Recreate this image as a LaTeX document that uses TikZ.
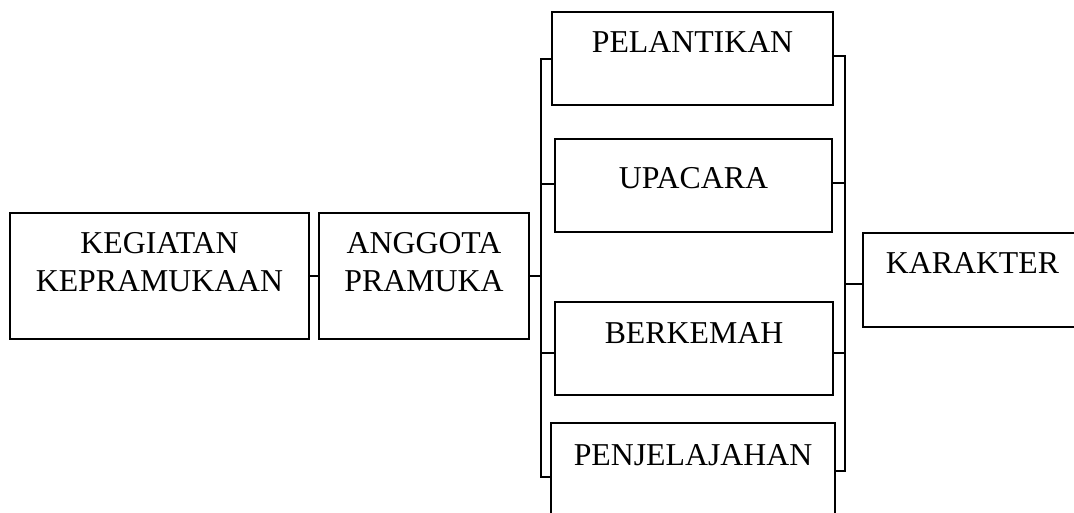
\documentclass[tikz,border=0pt]{standalone}
\usepackage{fontspec}
\setmainfont{Liberation Serif}
\begin{document}
\begin{tikzpicture}[x=1pt,y=-1pt,
  box/.style={draw=black, line width=1.5pt, inner sep=0pt, outer sep=0pt, anchor=north west},
  lbl/.style={anchor=base, inner sep=0pt, font=\fontsize{31.8}{38}\selectfont},
  conn/.style={draw=black, line width=1.5pt}]
\useasboundingbox (0,0) rectangle (1074,512);
\clip (0,0) rectangle (1074,512);
% boxes
\node[box, minimum width=299pt, minimum height=126pt] (keg) at (10,213) {};
\node[box, minimum width=210pt, minimum height=126pt] (ang) at (319,213) {};
\node[box, minimum width=281pt, minimum height=93pt] (pel) at (552,12) {};
\node[box, minimum width=277pt, minimum height=93pt] (upa) at (555,139) {};
\node[box, minimum width=278pt, minimum height=93pt] (ber) at (555,302) {};
\node[box, minimum width=284pt, minimum height=110pt] (pen) at (551,423) {};
\node[box, minimum width=221pt, minimum height=94pt] (kar) at (863,233) {};
% texts
\node[lbl] at ([yshift=-40pt]keg.north) {KEGIATAN};
\node[lbl] at ([yshift=-78pt]keg.north) {KEPRAMUKAAN};
\node[lbl] at ([yshift=-40pt]ang.north) {ANGGOTA};
\node[lbl] at ([yshift=-78pt]ang.north) {PRAMUKA};
\node[lbl] at ([yshift=-40pt]pel.north) {PELANTIKAN};
\node[lbl] at ([yshift=-49pt]upa.north) {UPACARA};
\node[lbl] at ([yshift=-41pt]ber.north) {BERKEMAH};
\node[lbl] at ([yshift=-42pt]pen.north) {PENJELAJAHAN};
\node[lbl] at ([xshift=-1pt,yshift=-40pt]kar.north) {KARAKTER};
% bus coordinates
\coordinate (lt) at (541,59);
\coordinate (lu) at (541,184);
\coordinate (lm) at (541,353);
\coordinate (lb) at (541,477);
\coordinate (rt) at (845,56);
\coordinate (ru) at (845,183);
\coordinate (rk) at (845,284);
\coordinate (rm) at (845,353);
\coordinate (rb) at (845,471);
% connectors
\draw[conn] (keg.east) -- (ang.west);
\draw[conn] (ang.east) -- (ang.east -| lt);
\draw[conn] (lt -| pel.west) -- (lt) -- (lb) -- (lb -| pen.west);
\draw[conn] (lu) -- (lu -| upa.west);
\draw[conn] (lm) -- (lm -| ber.west);
\draw[conn] (rt -| pel.east) -- (rt) -- (rb) -- (rb -| pen.east);
\draw[conn] (ru) -- (ru -| upa.east);
\draw[conn] (rm) -- (rm -| ber.east);
\draw[conn] (rk) -- (rk -| kar.west);
\end{tikzpicture}
\end{document}
